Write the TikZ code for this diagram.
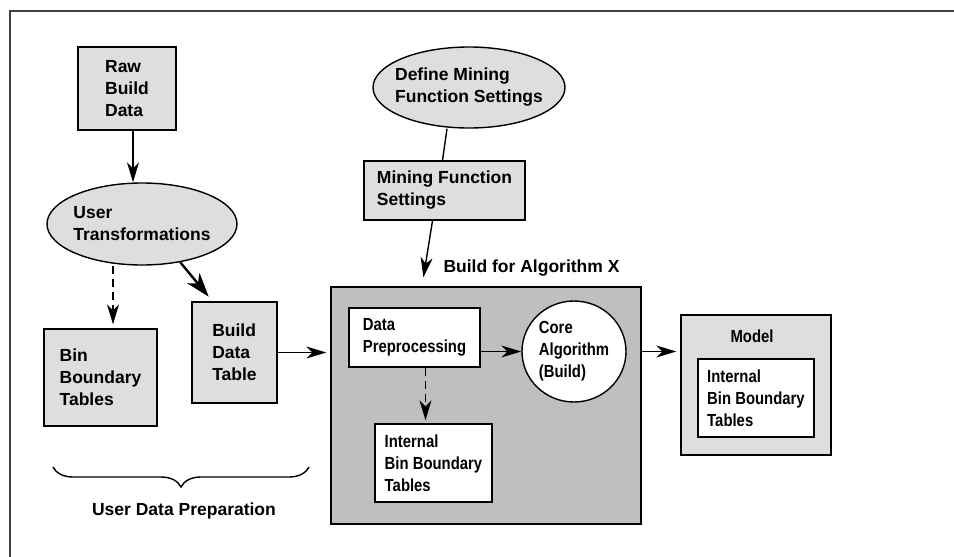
\documentclass[tikz,border=0pt]{standalone}
\usepackage{fontspec}
\setmainfont{Liberation Sans}
\newfontfamily\narrowfont{Liberation Sans}[FakeStretch=0.85]
\usetikzlibrary{shapes,arrows.meta,positioning,decorations.pathreplacing}
\definecolor{boxgray}{gray}{0.87}
\definecolor{algogray}{gray}{0.75}

\begin{document}
\begin{tikzpicture}[x=1pt,y=-1pt]
 \tikzset{base node/.style={draw, line width=1.4pt, inner sep=0pt,
 		align=left, font=\bfseries\fontsize{17.5}{22}\selectfont}, }
 \tikzset{gray node/.style={base node, rectangle, fill=boxgray}, }
 \tikzset{task node/.style={base node, ellipse, fill=boxgray}, }
 \tikzset{white node/.style={base node, rectangle, fill=white,
 		font=\narrowfont\bfseries\fontsize{17.5}{22}\selectfont}, }
 \tikzset{label node/.style={font=\bfseries\fontsize{17.5}{22}\selectfont}, }
 \tikzset{linea/.style={-{Stealth[length=20pt,width=12pt,inset=6pt]}, line width=1.4pt},}
 \useasboundingbox (0,0) rectangle (954,557);
 \draw[line width=2.4pt, black!75] (10,557) -- (10,11) -- (954,11);

 \node[gray node, minimum width=98, minimum height=83] (1) at (127,88.5) {Raw\\Build\\Data};
 \node[task node, minimum width=190, minimum height=82, inner xsep=-8pt] (2) at (142,224) {User\\Transformations};
 \node[task node, minimum width=192, minimum height=81, inner xsep=-14pt] (3) at (469,87.5) {Define Mining\\Function Settings};
 \node[gray node, minimum width=161, minimum height=59] (4) at (444.5,190.5) {Mining Function\\Settings};
 \node[gray node, minimum width=113, minimum height=97] (5) at (100.5,377.5) {Bin\\Boundary\\Tables};
 \node[gray node, minimum width=85, minimum height=101] (6) at (234.5,352.5) {Build\\Data\\Table};
 \node[base node, rectangle, fill=algogray, minimum width=310, minimum height=237] (7) at (486,405.5) {};
 \node[white node, minimum width=131, minimum height=59] (8) at (414.5,337.5) {Data\\Preprocessing};
 \node[white node, ellipse, minimum width=104, minimum height=101] (9) at (574,351.5) {Core\\Algorithm\\(Build)};
 \node[white node, minimum width=117, minimum height=78] (10) at (433.5,463) {Internal\\Bin Boundary\\Tables};
 \node[gray node, minimum width=150, minimum height=140] (11) at (756,385) {};
 \node[white node, minimum width=116, minimum height=78] (12) at (756,398) {Internal\\Bin Boundary\\Tables};
 \node[label node, font=\narrowfont\bfseries\fontsize{17.5}{22}\selectfont] (13) at (752,336) {Model};
 \node[label node, anchor=west] (14) at (440,268) {Build for Algorithm X};
 \node[label node] (15) at (184,511) {User Data Preparation};
 \coordinate (b1) at (53,467);
 \coordinate (b2) at (309,467);

 \draw[linea] ([xshift=6pt]1.south) -- ([xshift=6pt]1.south |- 2.north);
 \draw[line width=1.4pt] ([xshift=-22pt]3.south) -- ([xshift=-2pt]4.north);
 \draw[linea, shorten >=9pt] ([xshift=-12pt]4.south) -- ([xshift=-64pt]7.north);
 \draw[linea, dash pattern=on 8pt off 5pt, shorten >=4pt] ([xshift=-29pt]2.south) -- ([xshift=12.5pt]5.north);
 \draw[-{Stealth[length=24pt,width=16pt,inset=7pt]}, line width=2.4pt, shorten >=6pt] (2.-45) -- ([xshift=-22pt]6.north);
 \draw[linea, shorten >=4pt] (6.east) -- (6.east -| 7.west);
 \draw[linea] (9.west -| 8.east) -- (9.west);
 \draw[linea, dash pattern=on 8pt off 5pt, shorten >=3pt] ([xshift=11pt]8.south) -- ([xshift=11pt]8.south |- 10.north);
 \draw[linea, shorten >=4pt] (7.east |- 9.east) -- (11.west |- 9.east);
 \draw[line width=1.4pt, decorate, decoration={brace, mirror, amplitude=20pt}] (b1) -- (b2);
% %%
\end{tikzpicture}
\end{document}
